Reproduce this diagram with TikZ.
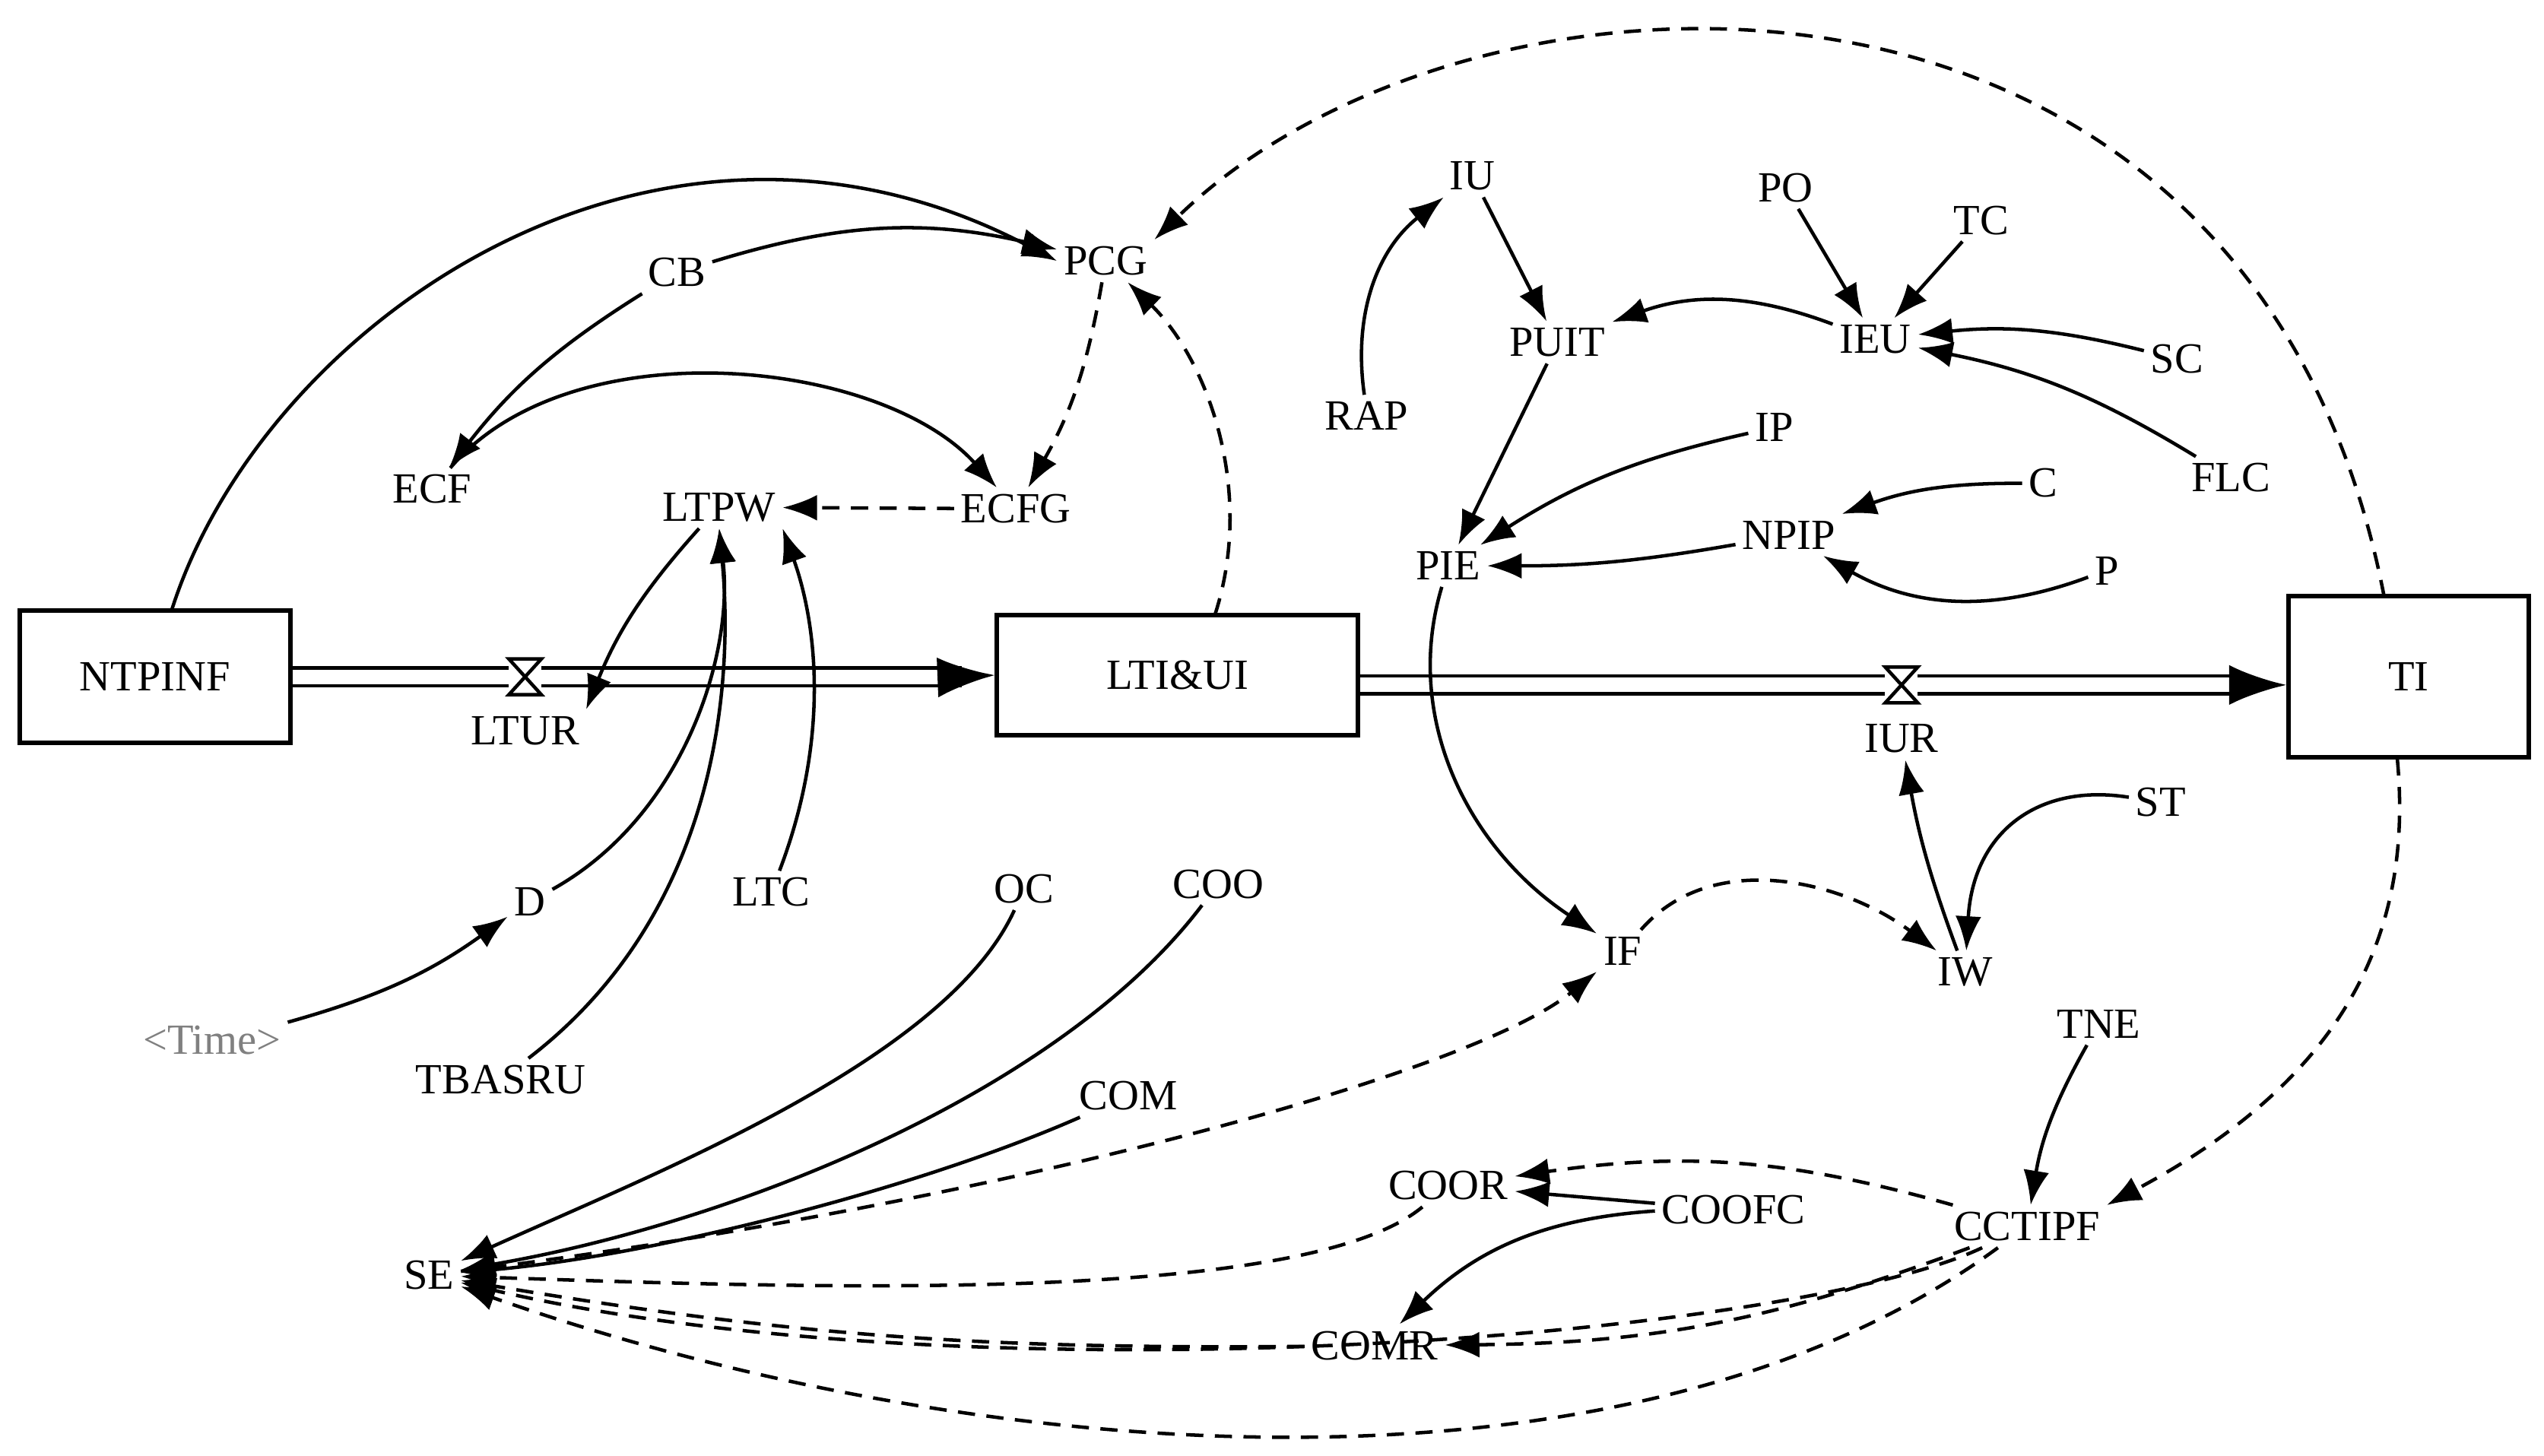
\documentclass[tikz,border=0pt]{standalone}
\usepackage{fontspec}
\setmainfont{Liberation Serif}
\usetikzlibrary{arrows.meta}
\tikzset{
  var/.style={inner sep=1pt,font=\fontsize{7.5}{8}\selectfont},
  stock/.style={draw,thick,inner sep=0pt,font=\fontsize{7.5}{8}\selectfont},
  lnk/.style={-{Latex[length=6pt,width=4.5pt]},semithick},
  dlnk/.style={lnk,densely dashed},
  pipe/.style={double,double distance=2.5pt,semithick},
  valve/.style={draw,semithick,minimum size=0pt,inner sep=0pt}
}
\begin{document}
\begin{tikzpicture}[x=0.01cm,y=-0.01cm]
\useasboundingbox (0,0) rectangle (1560,892.5);
% stocks
\node[stock,minimum width=1.66cm,minimum height=0.81cm] (ntpinf) at (95,415) {NTPINF};
\node[stock,minimum width=2.21cm,minimum height=0.74cm] (ltiui) at (722,414) {LTI\&UI};
\node[stock,minimum width=1.47cm,minimum height=0.99cm] (ti) at (1477,415) {TI};
% valves
\coordinate (ltur) at (322,415);
\coordinate (iurv) at (1166,420);
\draw[semithick] (312,404) -- (332,426) -- (312,426) -- (332,404) -- cycle;
\draw[semithick] (1156,409) -- (1176,431) -- (1156,431) -- (1176,409) -- cycle;
\node[var] (lturl) at (322,448) {LTUR};
\node[var] (iur) at (1166,453) {IUR};
% flows
\draw[pipe] (ntpinf.east) -- (312,415);
\draw[pipe] (332,415) -- (590,415);
\draw[lnk,line width=0.8pt,-{Latex[length=10pt,width=7pt]}] (585,415) -- (ltiui.west);
\draw[pipe] (ltiui.east |- 0,420) -- (1156,420);
\draw[pipe] (1176,420) -- (1375,420);
\draw[lnk,line width=0.8pt,-{Latex[length=10pt,width=7pt]}] (1370,420) -- (ti.west |- 0,420);
% variables
\node[var] (pcg) at (678,160) {PCG};
\node[var] (cb) at (415,167) {CB};
\node[var] (ecf) at (265,300) {ECF};
\node[var] (ltpw) at (441,311) {LTPW};
\node[var] (ecfg) at (623,312) {ECFG};
\node[var] (iu) at (903,108) {IU};
\node[var] (po) at (1095,115) {PO};
\node[var] (tc) at (1215,135) {TC};
\node[var] (puit) at (955,210) {PUIT};
\node[var] (ieu) at (1150,208) {IEU};
\node[var] (sc) at (1335,220) {SC};
\node[var] (rap) at (838,255) {RAP};
\node[var] (ip) at (1088,262) {IP};
\node[var] (flc) at (1368,293) {FLC};
\node[var] (c) at (1253,296) {C};
\node[var] (npip) at (1097,328) {NPIP};
\node[var] (p) at (1292,350) {P};
\node[var] (pie) at (888,347) {PIE};
\node[var] (d) at (325,553) {D};
\node[var] (ltc) at (473,547) {LTC};
\node[var] (oc) at (628,545) {OC};
\node[var] (coo) at (747,542) {COO};
\node[var] (st) at (1325,492) {ST};
\node[var] (if) at (995,583) {IF};
\node[var] (iw) at (1205,596) {IW};
\node[var,text=gray] (time) at (130,638) {<Time>};
\node[var] (tbasru) at (307,662) {TBASRU};
\node[var] (tne) at (1287,628) {TNE};
\node[var] (com) at (692,672) {COM};
\node[var] (coor) at (888,727) {COOR};
\node[var] (coofc) at (1063,742) {COOFC};
\node[var] (cctipf) at (1243,752) {CCTIPF};
\node[var] (se) at (263,782) {SE};
\node[var] (comr) at (843,825) {COMR};
% links
\draw[lnk] (105,375) .. controls (160,200) and (400,30) .. (pcg.west);
\draw[lnk] (cb) to[bend left=15] (pcg);
\draw[lnk] (cb) to[bend right=10] (ecf);
\draw[lnk] (ecf) .. controls (350,200) and (540,220) .. (ecfg);
\draw[dlnk] (pcg) to[bend left=10] (ecfg);
\draw[dlnk] (ecfg) -- (ltpw);
\draw[dlnk] (745,377) .. controls (770,300) and (740,220) .. (pcg);
\draw[dlnk] (1462,366) .. controls (1380,-60) and (900,-40) .. (pcg.north east);
\draw[lnk] (ltpw) to[bend right=10] (lturl.north east);
\draw[lnk] (d) .. controls (420,500) and (450,400) .. (ltpw.south);
\draw[lnk] (tbasru) .. controls (440,560) and (450,420) .. (ltpw.south);
\draw[lnk] (ltc) .. controls (510,450) and (500,380) .. (ltpw.south east);
\draw[lnk] (time) to[bend right=10] (d);
\draw[lnk] (rap) to[bend left=30] (iu);
\draw[lnk] (iu) -- (puit);
\draw[lnk] (po) -- (ieu);
\draw[lnk] (tc) -- (ieu);
\draw[lnk] (ieu) to[bend right=20] (puit);
\draw[lnk] (sc) to[bend right=10] (ieu);
\draw[lnk] (flc) to[bend right=10] (ieu);
\draw[lnk] (puit) -- (pie);
\draw[lnk] (ip) to[bend right=10] (pie);
\draw[lnk] (c) to[bend right=10] (npip);
\draw[lnk] (npip) to[bend left=5] (pie);
\draw[lnk] (p) to[bend left=25] (npip);
\draw[lnk] (pie) .. controls (860,440) and (900,520) .. (if);
\draw[dlnk] (if) .. controls (1050,520) and (1130,540) .. (iw);
\draw[lnk] (iw) to[bend left=5] (iur);
\draw[lnk] (st) .. controls (1250,480) and (1210,510) .. (iw);
\draw[dlnk] (1470,465) .. controls (1480,570) and (1440,660) .. (cctipf.north east);
\draw[lnk] (tne) to[bend right=10] (cctipf);
\draw[dlnk] (cctipf) to[bend right=12] (coor);
\draw[lnk] (coofc) -- (coor);
\draw[lnk] (coofc) to[bend right=20] (comr);
\draw[dlnk] (cctipf) to[bend left=10] (comr);
\draw[dlnk] (cctipf) .. controls (1100,820) and (600,860) .. (se);
\draw[dlnk] (cctipf) .. controls (1000,930) and (600,900) .. (se);
\draw[dlnk] (comr) to[bend left=5] (se);
\draw[dlnk] (coor) .. controls (800,800) and (500,790) .. (se);
\draw[dlnk] (se) .. controls (600,740) and (900,660) .. (if);
\draw[lnk] (oc) .. controls (580,650) and (400,720) .. (se);
\draw[lnk] (coo) .. controls (650,670) and (450,750) .. (se);
\draw[lnk] (com) .. controls (560,730) and (400,770) .. (se);
\end{tikzpicture}
\end{document}
